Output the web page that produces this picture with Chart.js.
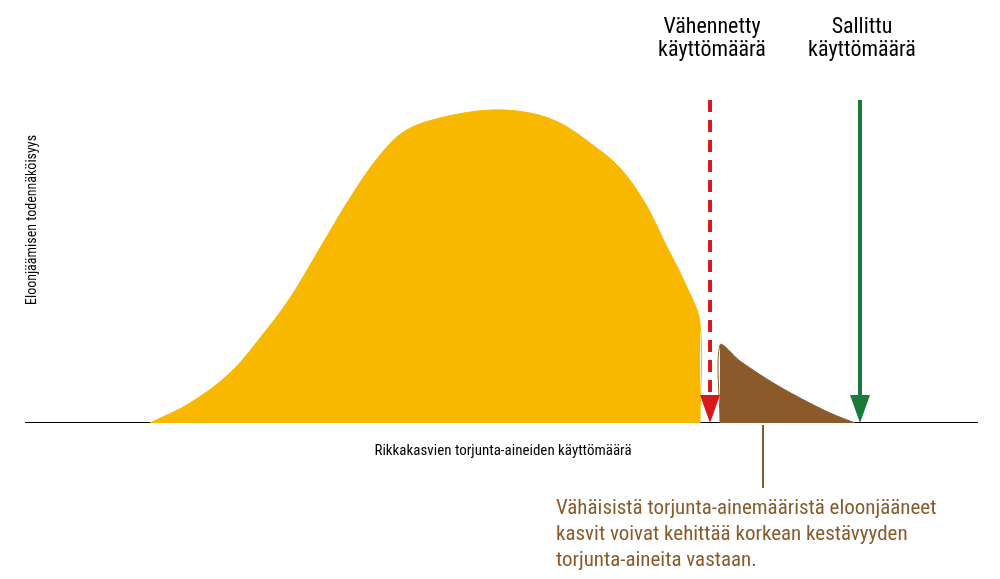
<!DOCTYPE html>
<html><head><meta charset="utf-8">
<script src="https://cdn.jsdelivr.net/npm/chart.js@4"></script>
<style>html,body{margin:0;background:#fff}#w{width:1000px;height:579px}</style>
</head><body><div id="w"><canvas id="c"></canvas></div>
<script>
const yellowX=[150,190,230,260,290,320,350,380,405,440,490,530,560,590,620,645,665,685,700,700];
const yellowY=[0,20,50,85,125,175,225,268,292,305,313,310,300,280,255,220,180,140,100,0];
const brownX=[720,720,740,770,800,830,855];
const brownY=[0,78,62,42,25,10,0];
const axisX=[25,978];
const reducedX=710, allowedX=860;
const labels={reduced:["Vähennetty","käyttömäärä"],allowed:["Sallittu","käyttömäärä"],
 yTitle:"Eloonjäämisen todennäköisyys",xTitle:"Rikkakasvien torjunta-aineiden käyttömäärä",
 note:["Vähäisistä torjunta-ainemääristä eloonjääneet","kasvit voivat kehittää korkean kestävyyden","torjunta-aineita vastaan."]};
const F="'Liberation Sans Narrow','Roboto Condensed',Roboto,sans-serif";
const pts=(xs,ys)=>xs.map((x,i)=>({x,y:ys[i]}));
const deco={id:'deco',afterDatasetsDraw(ch){
 const c=ch.ctx,X=ch.scales.x,Y=ch.scales.y;
 const arrow=(x,col)=>{const px=X.getPixelForValue(x),b=Y.getPixelForValue(0);
  c.fillStyle=col;c.beginPath();c.moveTo(px-10,b-28);c.lineTo(px+10,b-28);c.lineTo(px,b);c.closePath();c.fill();};
 arrow(reducedX,'#d7191c');arrow(allowedX,'#1a7a3a');
 c.save();c.fillStyle='#000';c.textAlign='center';c.textBaseline='alphabetic';
 c.font='22px '+F;
 labels.reduced.forEach((t,i)=>c.fillText(t,712,33+i*23));
 labels.allowed.forEach((t,i)=>c.fillText(t,862,33+i*23));
 c.font='15px '+F;c.fillText(labels.xTitle,503,455);
 c.save();c.translate(36,220);c.rotate(-Math.PI/2);c.font='14px '+F;c.fillText(labels.yTitle,0,0);c.restore();
 c.strokeStyle='#8a5a2b';c.lineWidth=2;c.beginPath();c.moveTo(763,425);c.lineTo(763,488);c.stroke();
 c.fillStyle='#8a5a2b';c.textAlign='left';c.font='21px '+F;
 labels.note.forEach((t,i)=>c.fillText(t,556,514+i*26));
 c.restore();}};
new Chart(document.getElementById('c'),{type:'scatter',
 data:{datasets:[
  {data:pts(yellowX,yellowY),showLine:true,fill:'origin',backgroundColor:'#f9b800',borderColor:'#f9b800',borderWidth:1,pointRadius:0,tension:0.35},
  {data:pts(brownX,brownY),showLine:true,fill:'origin',backgroundColor:'#8a5a2b',borderColor:'#8a5a2b',borderWidth:1,pointRadius:0,tension:0.3},
  {data:pts(axisX,[0,0]),showLine:true,borderColor:'#000',borderWidth:2,pointRadius:0},
  {data:pts([reducedX,reducedX],[323,25]),showLine:true,borderColor:'#d7191c',borderWidth:4,borderDash:[12,8],pointRadius:0},
  {data:pts([allowedX,allowedX],[323,25]),showLine:true,borderColor:'#1a7a3a',borderWidth:4,pointRadius:0}
 ]},
 options:{responsive:true,maintainAspectRatio:false,animation:false,
  layout:{padding:{left:0,right:0,top:0,bottom:156}},
  plugins:{legend:{display:false},tooltip:{enabled:false}},
  scales:{x:{type:'linear',min:0,max:1000,display:false},y:{min:0,max:423,display:false}}},
 plugins:[deco]});
</script></body></html>
